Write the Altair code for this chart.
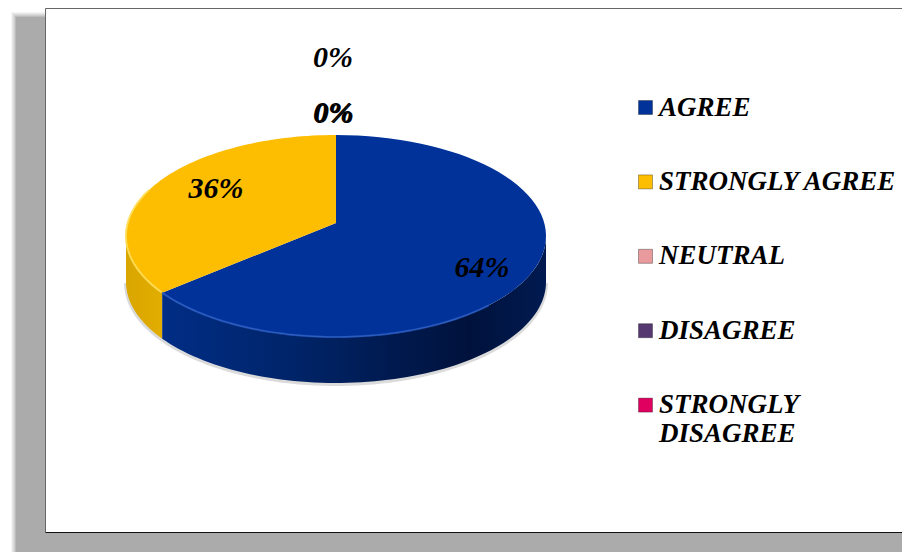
import math
import numpy as np
import altair as alt

# ---- data
categories = ["AGREE", "STRONGLY AGREE", "NEUTRAL", "DISAGREE", "STRONGLY DISAGREE"]
shares = [64, 36, 0, 0, 0]
colors = ["#00329a", "#fdbd00", "#e89a9c", "#54386f", "#e0005f"]
label_texts = ["64%", "36%", "0%", "0%", "0%"]

# ---- layout of the 3-D disc (chart pixels)
W, H = 894, 544
CX, CY, RX, RY, DEPTH, APEX = 328, 228, 210, 101, 46, 13
TILT = 1.22
# nudges of Excel's hand-placed labels from their computed anchors
nudges = [(-3, 4), (29, -19), (-3, -22), (-3, -77), (-2, -21)]


def visual_angle(frac):
    """perspective-corrected clockwise angle from 12 o'clock"""
    a = 2 * math.pi * frac
    t = math.atan2(math.sin(a) * TILT, math.cos(a))
    return t if t >= 0 else t + 2 * math.pi


def arc(t0, t1, dy=0, n=80):
    ts = np.linspace(t0, t1, n)
    return [[float(CX + RX * math.sin(t)), float(CY - RY * math.cos(t) + dy)] for t in ts]


def fc(features):
    return alt.InlineData(
        values={"type": "FeatureCollection", "features": features},
        format=alt.DataFormat(type="json", property="features"),
    )


def feat(geom_type, coords, cat=""):
    return {"type": "Feature", "properties": {"cat": cat},
            "geometry": {"type": geom_type, "coordinates": coords}}


T = visual_angle(shares[0] / sum(shares))
apex = [CX, CY - APEX]
blue_face = [apex] + arc(0, T) + [apex]
yellow_face = [apex] + arc(T, 2 * math.pi) + [apex]
blue_wall = arc(math.pi / 2, T) + arc(T, math.pi / 2, DEPTH)
blue_wall.append(blue_wall[0])
yellow_wall = arc(T, 1.5 * math.pi) + arc(1.5 * math.pi, T, DEPTH)
yellow_wall.append(yellow_wall[0])
outline = arc(math.pi / 2, 1.5 * math.pi, DEPTH + 1)

proj = alt.Projection(type="identity", scale=1, translate=[0, 0])


def hgrad(stops):
    return alt.Gradient(gradient="linear", x1=0, x2=1, y1=0, y2=0,
                        stops=[alt.GradientStop(offset=o, color=c) for o, c in stops])


dummy = alt.Chart(alt.Data(values=[{"a": 0}]))

# soft frame shadow
shadow_layers = []
for inset, op in [(0, 0.12), (1, 0.16), (2, 0.22), (3, 0.3), (4, 0.45), (5, 1.0)]:
    shadow_layers.append(
        dummy.mark_rect(color="#ababab", opacity=op).encode(
            x=alt.value(3 + inset), x2=alt.value(W + 20),
            y=alt.value(4 + inset), y2=alt.value(H + 2 - inset * 0.4),
        )
    )

paper = dummy.mark_rect(color="white").encode(
    x=alt.value(37.5), x2=alt.value(W + 20), y=alt.value(0.5), y2=alt.value(524.5))
top_line = dummy.mark_rule(color="#666666", strokeWidth=1).encode(
    x=alt.value(37.5), x2=alt.value(W + 20), y=alt.value(0.5))
left_line = dummy.mark_rule(color="#666666", strokeWidth=1).encode(
    x=alt.value(37.5), y=alt.value(0.5), y2=alt.value(524.5))
bottom_line = dummy.mark_rule(color="#111111", strokeWidth=1).encode(
    x=alt.value(37.5), x2=alt.value(W + 20), y=alt.value(524.5))

disc_shadow = alt.Chart(fc([feat("LineString", outline)])).mark_geoshape(
    filled=False, stroke="#999999", strokeWidth=4, strokeOpacity=0.35)

wall_b = alt.Chart(fc([feat("Polygon", [blue_wall])])).mark_geoshape(
    filled=True, strokeWidth=0,
    fill=hgrad([(0, "#002d85"), (0.35, "#002468"), (0.8, "#00123c"), (1, "#001a50")]))
wall_y = alt.Chart(fc([feat("Polygon", [yellow_wall])])).mark_geoshape(
    filled=True, strokeWidth=0,
    fill=hgrad([(0, "#d9a600"), (1, "#e2ad00")]))

faces = alt.Chart(fc([
    feat("Polygon", [blue_face], categories[0]),
    feat("Polygon", [yellow_face], categories[1]),
])).mark_geoshape(filled=True, strokeWidth=0).encode(
    color=alt.Color(
        "properties.cat:N",
        scale=alt.Scale(domain=categories, range=colors),
        sort=categories,
        legend=alt.Legend(
            title=None, orient="none", legendX=624, legendY=86, padding=0,
            columns=1, symbolType="square", symbolSize=196, symbolStrokeWidth=1,
            symbolStrokeColor="#00000050",
            symbolOpacity=1, labelOffset=0, rowPadding=46.4, labelLimit=400,
            labelFont="Liberation Serif", labelFontSize=27, labelFontStyle="italic",
            labelFontWeight="bold", labelColor="black",
            labelExpr="datum.label == 'STRONGLY DISAGREE' ? ['STRONGLY', 'DISAGREE'] : datum.label",
        ),
    )
)

rim_b = alt.Chart(fc([feat("LineString", arc(T, 1.0 * math.pi / 1.35))])).mark_geoshape(
    filled=False, stroke="#2a5cc4", strokeWidth=2, strokeOpacity=0.8)
rim_y = alt.Chart(fc([feat("LineString", arc(1.05 * math.pi * 1.25, 1.65 * math.pi))])).mark_geoshape(
    filled=False, stroke="#ffdd55", strokeWidth=2, strokeOpacity=0.9)

# percent labels, anchored on the slice mid-angles and nudged
rows = []
cum = 0
for txt, s, (dx, dy) in zip(label_texts, shares, nudges):
    frac = (cum + s / 2) / sum(shares)
    a = visual_angle(frac)
    r = 0.76 if s else 1.0
    rows.append({"t": txt,
                 "lon": CX + RX * r * math.sin(a) + dx,
                 "lat": CY - RY * r * math.cos(a) + dy})
    cum += s
rows[2:] = [{"t": r["t"], "lon": CX + nudges[i + 2][0], "lat": CY - RY + nudges[i + 2][1]}
            for i, r in enumerate(rows[2:])]

labels = alt.Chart(alt.Data(values=rows)).mark_text(
    font="Liberation Serif", fontSize=30, fontStyle="italic", fontWeight="bold",
    color="black", align="center", baseline="middle",
).encode(
    longitude="lon:Q", latitude="lat:Q", text="t:N")

chart = alt.layer(
    *shadow_layers, paper, top_line, left_line, bottom_line,
    disc_shadow, wall_y, wall_b, faces, rim_b, rim_y, labels,
).properties(
    width=W, height=H, padding=0, projection=proj,
    autosize=alt.AutoSizeParams(type="none"), background="white",
).configure_view(stroke=None)

chart.save("out.html", embed_options={"renderer": "svg", "actions": False})
